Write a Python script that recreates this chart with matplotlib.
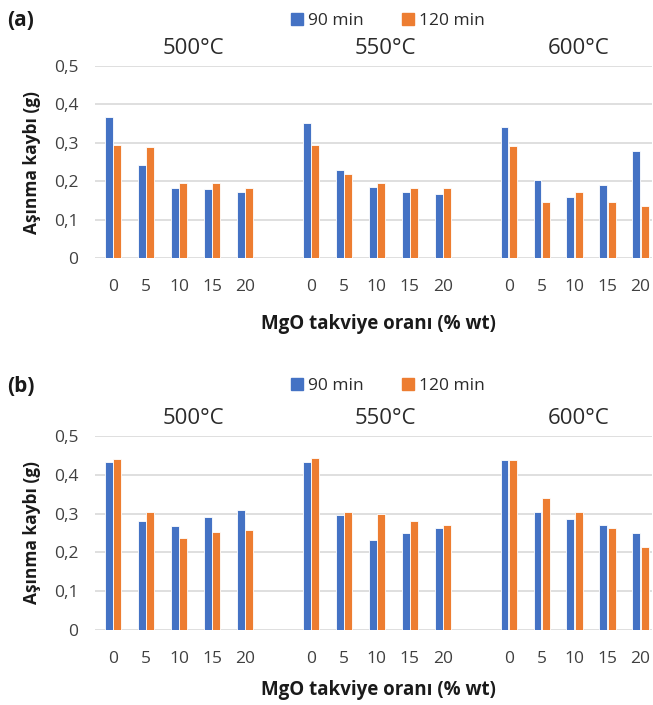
import numpy as np
import matplotlib
matplotlib.use("Agg")
import matplotlib.pyplot as plt
from matplotlib.patches import Patch

plt.rcParams['font.family'] = ['Open Sans', 'DejaVu Sans']

mgo = ["0", "5", "10", "15", "20"]
temps = ["500°C", "550°C", "600°C"]
series = ["90 min", "120 min"]

# panel (a)
a_90 = [0.367, 0.242, 0.183, 0.180, 0.173,
        0.352, 0.229, 0.184, 0.173, 0.166,
        0.341, 0.202, 0.158, 0.189, 0.278]
a_120 = [0.295, 0.288, 0.195, 0.195, 0.183,
         0.295, 0.218, 0.196, 0.181, 0.181,
         0.292, 0.147, 0.173, 0.147, 0.136]

# panel (b)
b_90 = [0.433, 0.282, 0.267, 0.292, 0.308,
        0.433, 0.297, 0.233, 0.251, 0.263,
        0.437, 0.304, 0.285, 0.270, 0.251]
b_120 = [0.441, 0.304, 0.238, 0.252, 0.259,
         0.444, 0.304, 0.299, 0.281, 0.270,
         0.437, 0.340, 0.304, 0.263, 0.214]

blue = '#4472C4'
orange = '#ED7D31'
W, H = 653, 705


def px(x, y):
    return x / W, 1 - y / H


def fmt(v, pos):
    return "0" if abs(v) < 1e-9 else f"{v:.1f}".replace('.', ',')


# category slots: 5 per group with one empty slot between groups
xpos = np.array([g * (len(mgo) + 1) + i for g in range(len(temps)) for i in range(len(mgo))])
xlabels = mgo * len(temps)


def draw_panel(top, bottom, v90, v120, tag, tag_y):
    l, t = px(95, top)
    _, b = px(652, bottom)
    ax = fig.add_axes([l, b, 557 / W, t - b])
    bw = 0.24
    ax.bar(xpos - 0.125, v90, bw, color=blue, edgecolor='white', linewidth=0.6, zorder=3)
    ax.bar(xpos + 0.125, v120, bw, color=orange, edgecolor='white', linewidth=0.6, zorder=3)
    ax.set_ylim(0, 0.5)
    ax.set_xlim(-0.55, 16.35)
    ax.set_yticks(np.arange(0, 0.51, 0.1))
    ax.yaxis.set_major_formatter(plt.FuncFormatter(fmt))
    ax.set_xticks(xpos)
    ax.set_xticklabels(xlabels)
    ax.grid(axis='y', color='#D9D9D9', linewidth=1.2, zorder=0)
    for s in ax.spines.values():
        s.set_visible(False)
    ax.tick_params(axis='both', length=0, labelsize=12.5, colors='#404040')
    ax.tick_params(axis='x', pad=15)
    ax.tick_params(axis='y', pad=12)
    ax.set_ylabel("Aşınma kaybı (g)", fontsize=12.5, fontweight='bold', color='#1a1a1a', labelpad=9)

    fig.text(*px(7, tag_y), tag, fontsize=15, fontweight='bold', color='#1a1a1a', va='center', ha='left')
    for cx, tl in zip([193, 385, 579], temps):
        fig.text(*px(cx, top - 18), tl, fontsize=16, color='#2b2b2b', ha='center', va='center')
    fig.legend(handles=[Patch(color=blue, label=series[0]), Patch(color=orange, label=series[1])],
               loc='center', bbox_to_anchor=px(388, tag_y), ncol=2, frameon=False,
               fontsize=12.5, handlelength=0.7, handleheight=0.7, handletextpad=0.3,
               columnspacing=2.2, labelcolor='#2b2b2b')
    return ax


fig = plt.figure(figsize=(W / 100, H / 100), dpi=100)

draw_panel(66, 258, a_90, a_120, "(a)", 21)
fig.text(*px(378, 324), "MgO takviye oranı (% wt)", fontsize=13.5, fontweight='bold',
         color='#1a1a1a', ha='center', va='center')

draw_panel(436, 630, b_90, b_120, "(b)", 386)
fig.text(*px(378, 690), "MgO takviye oranı (% wt)", fontsize=13.5, fontweight='bold',
         color='#1a1a1a', ha='center', va='center')

fig.savefig("out.png", dpi=100, facecolor='white')
